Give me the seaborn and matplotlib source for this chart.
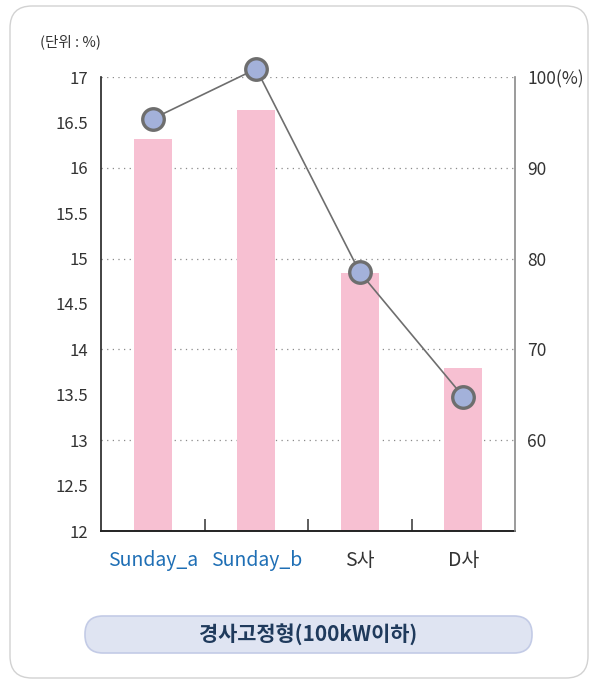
import matplotlib
matplotlib.use("Agg")
import matplotlib.pyplot as plt
import seaborn as sns
import pandas as pd
from matplotlib.patches import FancyBboxPatch
from matplotlib.transforms import IdentityTransform
from matplotlib.ticker import FixedLocator

categories = ["Sunday_a", "Sunday_b", "S사", "D사"]
bar_values = [16.32, 16.64, 14.84, 13.80]
line_values = [95.4, 100.9, 78.5, 64.8]
left_ticks = [12, 12.5, 13, 13.5, 14, 14.5, 15, 15.5, 16, 16.5, 17]
left_ticklabels = ["12", "12.5", "13", "13.5", "14", "14.5", "15", "15.5", "16", "16.5", "17"]
right_ticks = [60, 70, 80, 90, 100]
right_ticklabels = ["60", "70", "80", "90", "100(%)"]
label_colors = ["#1f6fb5", "#1f6fb5", "#333333", "#333333"]
title_text = "경사고정형(100kW이하)"
unit_text = "(단위 : %)"

sns.set_theme(style="white")
plt.rcParams['font.family'] = ['Noto Sans CJK KR', 'DejaVu Sans']

df = pd.DataFrame({"cat": categories, "bar": bar_values, "line": line_values})

W, H = 592, 681
fig = plt.figure(figsize=(W / 100, H / 100), dpi=100)
fig.patch.set_facecolor("white")
ax = fig.add_axes([101 / W, 1 - 531 / H, (515 - 101) / W, (531 - 77) / H])

# outer rounded frame
frame = FancyBboxPatch((10, 3), 578, 672, boxstyle="round,pad=0,rounding_size=22",
                       transform=IdentityTransform(), facecolor="none",
                       edgecolor="#d2d2d2", linewidth=1.0, zorder=0)
fig.patches.append(frame)

# grid lines
for g in [13, 14, 15, 16, 17]:
    ax.axhline(g, color="#8a8a8a", linestyle=(0, (1, 3.5)), linewidth=0.9, zorder=0)

sns.barplot(data=df, x="cat", y="bar", order=categories, color="#f7c0d2",
            saturation=1, width=0.37, ax=ax, zorder=2, linewidth=0, edgecolor="none")
ax.set_ylim(12, 17)
ax.set_xlim(-0.5, 3.5)
ax.set_xlabel("")
ax.set_ylabel("")

ax.yaxis.set_major_locator(FixedLocator(left_ticks))
ax.set_yticklabels(left_ticklabels)
ax.yaxis.set_minor_locator(FixedLocator([12.5, 13.5, 14.5, 15.5, 16.5]))
ax.tick_params(axis="y", which="major", length=0, pad=9, labelsize=12, labelcolor="#333333")
ax.tick_params(axis="y", which="minor", length=9, width=1.1, direction="in", color="#333333", left=True)

ax.xaxis.set_minor_locator(FixedLocator([0.5, 1.5, 2.5]))
ax.tick_params(axis="x", which="major", length=0, pad=14, labelsize=14)
ax.tick_params(axis="x", which="minor", length=9, width=1.1, direction="in", color="#333333", bottom=True)
for lbl, c in zip(ax.get_xticklabels(), label_colors):
    lbl.set_color(c)

for s in ["top", "right"]:
    ax.spines[s].set_visible(False)
ax.spines["left"].set_color("#222222")
ax.spines["left"].set_linewidth(1.2)
ax.spines["bottom"].set_color("#222222")
ax.spines["bottom"].set_linewidth(1.4)

ax2 = ax.twinx()
sns.pointplot(data=df, x="cat", y="line", order=categories, ax=ax2, color="#6e6e6e",
              markers="o", linewidth=1.2, markersize=15.5, markerfacecolor="#a3b1da",
              markeredgecolor="#6e6e6e", markeredgewidth=2.4)
for ln in ax2.lines:
    ln.set_clip_on(False)
    ln.set_zorder(5)
ax2.set_ylim(50, 100)
ax2.set_xlim(-0.5, 3.5)
ax2.set_ylabel("")
ax2.set_xlabel("")
ax2.set_yticks(right_ticks)
ax2.set_yticklabels(right_ticklabels)
ax2.tick_params(axis="y", length=0, pad=9, labelsize=12.5, labelcolor="#333333")
for s in ["top", "left", "bottom"]:
    ax2.spines[s].set_visible(False)
ax2.spines["right"].set_color("#8a8a8a")
ax2.spines["right"].set_linewidth(1.2)
ax2.grid(False)
ax.grid(False)

fig.text(40 / W, 1 - 42 / H, unit_text, ha="left", va="center", fontsize=10.5, color="#333333")

pill = FancyBboxPatch((85, 28), 447, 37, boxstyle="round,pad=0,rounding_size=18",
                      transform=IdentityTransform(), facecolor="#dfe4f2",
                      edgecolor="#c3cbe6", linewidth=1.2, zorder=1)
fig.patches.append(pill)
fig.text(308.5 / W, 47 / H, title_text, ha="center", va="center", fontsize=15,
         color="#1f3a5c", fontweight="bold")

fig.savefig("out.png", dpi=100)
